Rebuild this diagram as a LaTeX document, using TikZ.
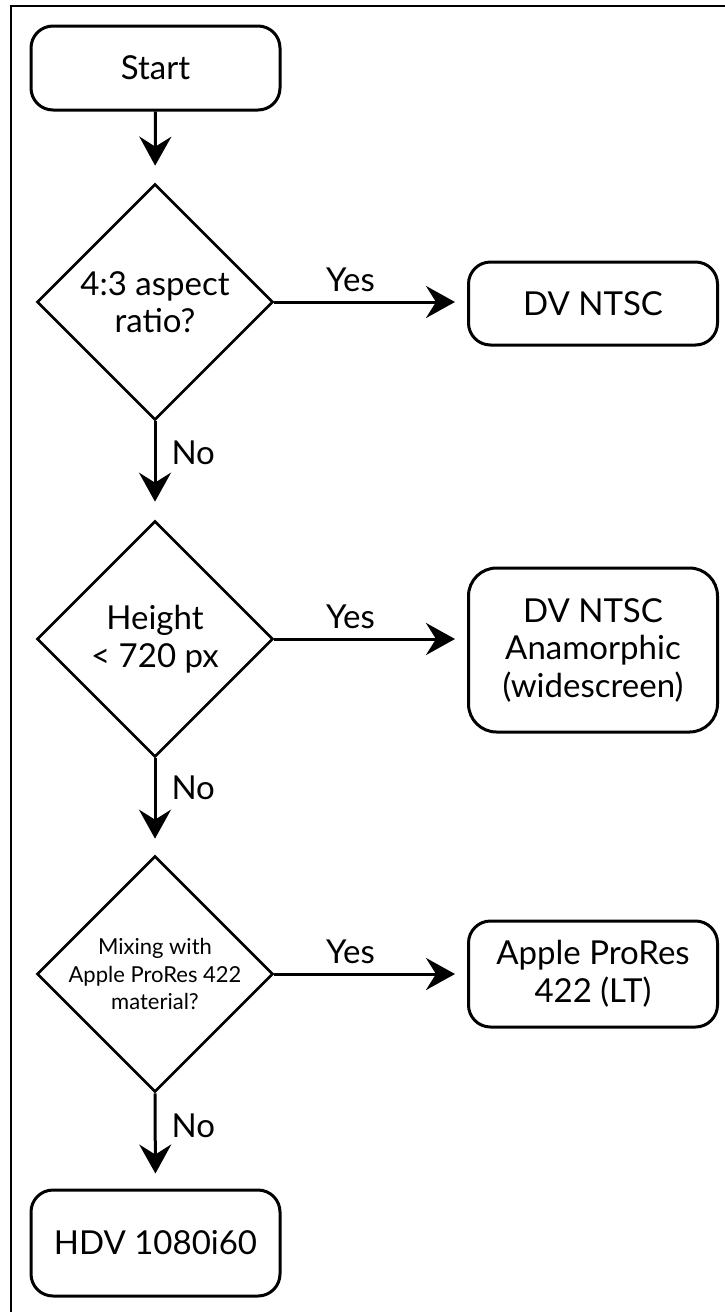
\documentclass[tikz,border=0pt]{standalone}
\usepackage{fontspec}
\setmainfont{Lato}
\usetikzlibrary{shapes.geometric,arrows.meta}
\begin{document}
\begin{tikzpicture}[x=1pt,y=-1pt,
  mainfont/.style={font=\fontsize{33}{37.5}\selectfont},
  box/.style={draw, line width=3pt, rounded corners=22pt, minimum width=249pt, inner sep=0pt, align=center, mainfont},
  dia/.style={draw, diamond, aspect=1, line width=2.7pt, minimum width=236pt, minimum height=236pt, inner sep=0pt},
  dtext/.style={align=center, inner sep=0pt, mainfont},
  smalltext/.style={align=center, inner sep=0pt, font=\fontsize{22}{27.5}\selectfont},
  arr/.style={line width=3pt, -{Stealth[length=29pt,width=32pt,inset=10pt]}},
  lab/.style={inner sep=0pt, mainfont}
]
\useasboundingbox (0,0) rectangle (725,1312);
% frame
\draw[line width=2.4pt] (11,1312) -- (11,6) -- (725,6);

% nodes
\node[box, minimum height=84pt] (start) at (155.5,68) {Start};
\node[dia] (d1) at (155,302) {};
\node[dtext] at (d1) {4:3 aspect\\ratio?};
\node[box, minimum height=83pt] (b1) at (593,303.5) {DV NTSC};

\node[dia] (d2) at (155,639) {};
\node[dtext] at (d2) {Height\\< 720 px};
\node[box, minimum height=164pt, rounded corners=28pt] (b2) at (593,650) {DV NTSC\\Anamorphic\\(widescreen)};

\node[dia] (d3) at (155,974) {};
\node[smalltext] at (d3) {Mixing with\\Apple ProRes 422\\material?};
\node[box, minimum height=106pt] (b3) at (593,974) {Apple ProRes\\422 (LT)};

\node[box, minimum height=106pt] (hdv) at (155.5,1243) {HDV 1080i60};

% connectors
\draw[arr, shorten >=17pt] (start.south) -- (d1.north);
\draw[arr, shorten >=12pt] (d1.east) -- node[lab, pos=0.395, yshift=22pt] {Yes} (b1.west |- d1.east);
\draw[arr, shorten >=18pt] (d1.south) -- node[lab, pos=0.32, anchor=west, xshift=15pt] {No} (d2.north);
\draw[arr, shorten >=12pt] (d2.east) -- node[lab, pos=0.395, yshift=22pt] {Yes} (b2.west |- d2.east);
\draw[arr, shorten >=16pt] (d2.south) -- node[lab, pos=0.31, anchor=west, xshift=15pt] {No} (d3.north);
\draw[arr, shorten >=12pt] (d3.east) -- node[lab, pos=0.395, yshift=22pt] {Yes} (b3.west |- d3.east);
\draw[arr, shorten >=15pt] (d3.south) -- node[lab, pos=0.34, anchor=west, xshift=15pt] {No} (hdv.north);
\end{tikzpicture}
\end{document}
